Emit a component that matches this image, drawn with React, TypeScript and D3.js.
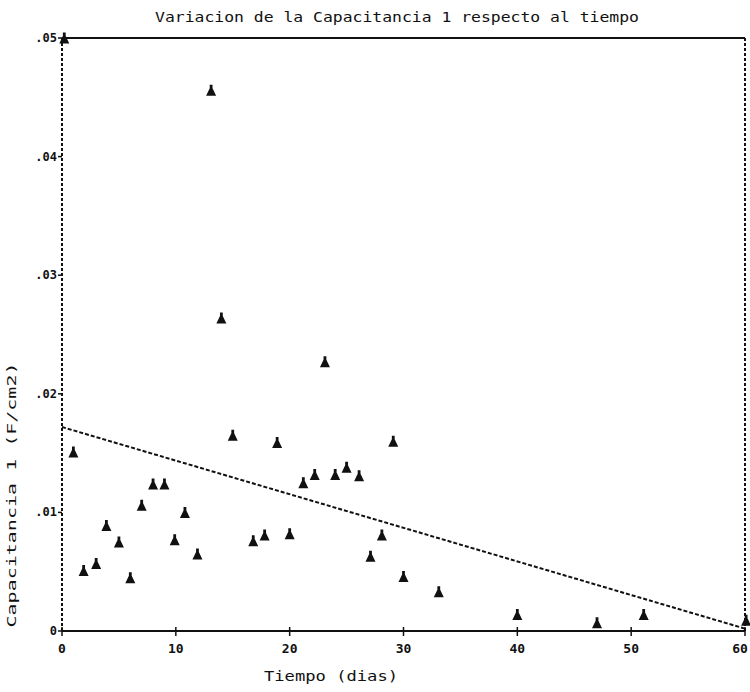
import React from "react";
import * as d3 from "d3";

const TITLE = "Variacion de la Capacitancia 1 respecto al tiempo";
const X_TITLE = "Tiempo (dias)";
const Y_TITLE = "Capacitancia 1 (F/cm2)";

const xTicks = [0, 10, 20, 30, 40, 50, 60];
const yTicks = [0, 0.01, 0.02, 0.03, 0.04, 0.05];
const yTickLabels = ["0", ".01", ".02", ".03", ".04", ".05"];

// days
const dias = [
  0.2, 13.1, 14.0, 15.0, 18.9, 23.1, 29.1, 1.0, 8.0, 9.0, 21.2, 22.2, 24.0, 25.0, 26.1,
  7.0, 10.8, 3.9, 5.0, 9.9, 11.9, 16.8, 17.8, 20.0, 28.1, 27.1, 1.9, 3.0, 6.0, 30.0,
  33.1, 40.0, 47.0, 51.1, 60.1,
];
// capacitance values
const capacitancia = [
  0.0500, 0.0456, 0.0264, 0.0165, 0.0159, 0.0227, 0.0160, 0.0151, 0.0124, 0.0124, 0.0125, 0.0132, 0.0132, 0.0138, 0.0131,
  0.0106, 0.0100, 0.0089, 0.0075, 0.0077, 0.0065, 0.0076, 0.0081, 0.0082, 0.0081, 0.0063, 0.0051, 0.0057, 0.0045, 0.0046,
  0.0033, 0.0014, 0.0007, 0.0014, 0.0009,
];
// fitted regression line endpoints
const fitX = [0, 60];
const fitY = [0.0172, 0.0002];

const W = 750;
const H = 692;
const L = 62;
const R = 745;
const T = 38;
const B = 631;

export default function App() {
  const x = d3.scaleLinear().domain([0, 60]).range([L, R]);
  const y = d3.scaleLinear().domain([0, 0.05]).range([B, T]);
  const mono = "'DejaVu Sans Mono', 'Liberation Mono', monospace";

  const fitLine = d3
    .line<number>()
    .x((_, i) => x(fitX[i]))
    .y((d) => y(d))(fitY);

  // marker: triangle with a small knob at the top
  const marker = "M-5,5.5 L5,5.5 L1.4,-2 L1.4,-5.5 L-1.4,-5.5 L-1.4,-2 Z";

  return (
    <svg
      width={W}
      height={H}
      viewBox={`0 0 ${W} ${H}`}
      style={{ position: "absolute", left: 0, top: 0, background: "#fff" }}
    >
      <rect x={0} y={0} width={W} height={H} fill="#fff" />
      <text
        x={397}
        y={22}
        textAnchor="middle"
        fontFamily={mono}
        fontSize={14}
        textLength={484}
        lengthAdjust="spacingAndGlyphs"
        fill="#111"
      >
        {TITLE}
      </text>

      {/* frame */}
      <line x1={L} x2={R} y1={T} y2={T} stroke="#111" strokeWidth={2.2} />
      <line x1={L} x2={R} y1={B} y2={B} stroke="#111" strokeWidth={2} />
      <line x1={L} x2={L} y1={T} y2={B} stroke="#111" strokeWidth={2} strokeDasharray="3,2" />
      <line x1={R} x2={R} y1={T} y2={B} stroke="#111" strokeWidth={2} strokeDasharray="3,2" />

      {/* y ticks */}
      {yTicks.map((t, i) => (
        <g key={"y" + i}>
          <line x1={L - 4} x2={L} y1={y(t)} y2={y(t)} stroke="#111" strokeWidth={1.5} />
          <text
            x={L - 5}
            y={y(t) + 4}
            textAnchor="end"
            fontFamily={mono}
            fontSize={12}
            fontWeight="bold"
            fill="#111"
          >
            {yTickLabels[i]}
          </text>
        </g>
      ))}

      {/* x ticks */}
      {xTicks.map((t, i) => (
        <g key={"x" + i}>
          <line x1={x(t)} x2={x(t)} y1={B - 4} y2={B + 5} stroke="#111" strokeWidth={1.5} />
          <text
            x={Math.min(x(t), 740)}
            y={B + 22}
            textAnchor="middle"
            fontFamily={mono}
            fontSize={13}
            fontWeight="bold"
            fill="#111"
          >
            {String(t)}
          </text>
        </g>
      ))}

      <text
        x={331}
        y={681}
        textAnchor="middle"
        fontFamily={mono}
        fontSize={14}
        textLength={134}
        lengthAdjust="spacingAndGlyphs"
        fill="#111"
      >
        {X_TITLE}
      </text>

      <text
        transform={`translate(16,${495}) rotate(-90)`}
        textAnchor="middle"
        fontFamily={mono}
        fontSize={13}
        textLength={265}
        lengthAdjust="spacingAndGlyphs"
        fill="#111"
      >
        {Y_TITLE}
      </text>

      {/* fit line */}
      <path d={fitLine || ""} fill="none" stroke="#111" strokeWidth={2} strokeDasharray="4,2" />

      {/* points */}
      {dias.map((d, i) => (
        <path
          key={"p" + i}
          d={marker}
          transform={`translate(${x(d)},${y(capacitancia[i])})`}
          fill="#111"
        />
      ))}
    </svg>
  );
}
